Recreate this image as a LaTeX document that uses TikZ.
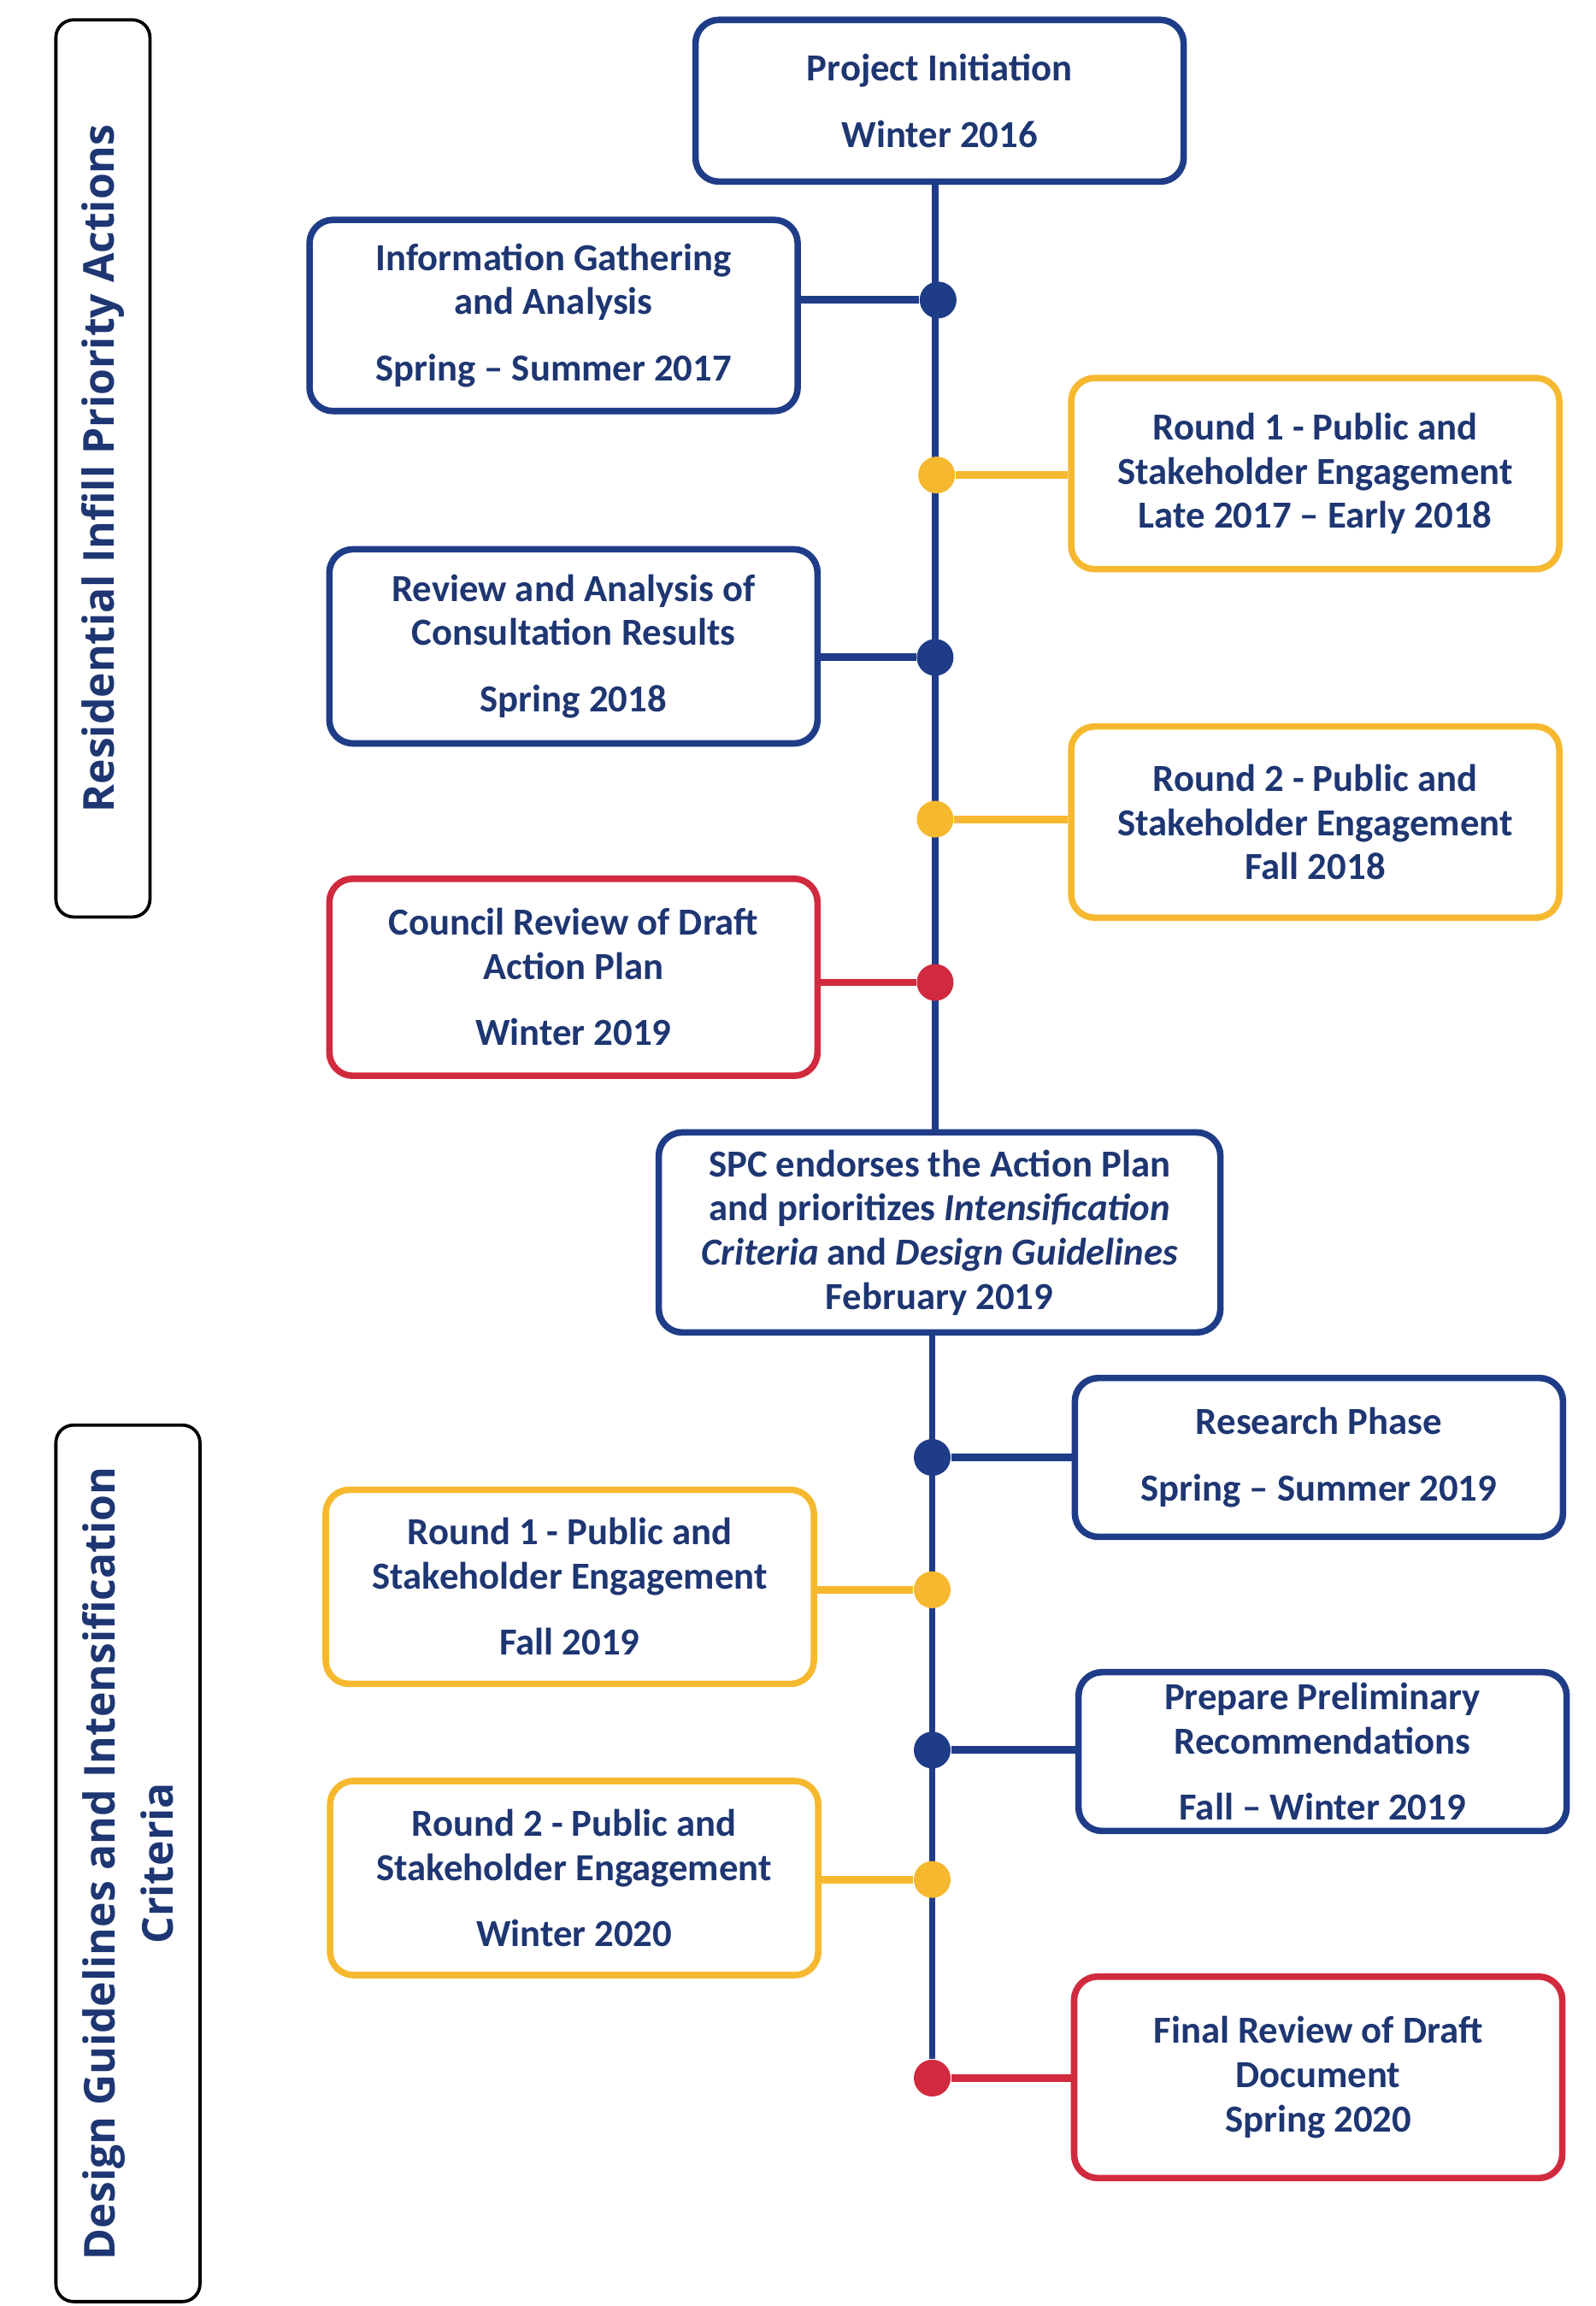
\documentclass[tikz,border=0pt]{standalone}
\usepackage{fontspec}
\setmainfont{Carlito}
\newfontfamily\sidefont{Open Sans}
\usetikzlibrary{backgrounds}
\definecolor{navy}{HTML}{1F3C88}
\definecolor{gold}{HTML}{F6B82F}
\definecolor{crimson}{HTML}{D12A3E}
\definecolor{ink}{HTML}{1E3672}

\begin{document}
\begin{tikzpicture}[x=0.5pt,y=-0.5pt,
  stage/.style={draw,line width=2.2pt,rounded corners=8pt,fill=white,text=ink,
    align=center,inner sep=0pt,minimum width=166pt,
    font=\bfseries\fontsize{13}{15}\selectfont},
  bluestage/.style={stage,draw=navy},
  goldstage/.style={stage,draw=gold},
  redstage/.style={stage,draw=crimson},
  side/.style={draw=black,line width=1.1pt,rounded corners=6pt,rotate=90,
    text=ink,align=center,inner sep=0pt,
    font=\sidefont\bfseries\fontsize{14.5}{20}\selectfont},
  tdot/.style={circle,inner sep=0pt,minimum size=12.5pt},
  link/.style={line width=2.6pt}]
  \useasboundingbox (0,0) rectangle (1085,1568);

  % side labels
  \node[side,minimum width=305pt,minimum height=32pt] (phase1) at (70,318.5)
    {Residential Infill Priority Actions};
  \node[side,minimum width=298pt,minimum height=49pt] (phase2) at (87,1267)
    {Design Guidelines and Intensification\\Criteria};

  % stages
  \node[bluestage,minimum height=55pt] (top) at (639,68.5)
    {Project Initiation\\[7.5pt]Winter 2016};
  \node[bluestage,minimum height=65pt] (info) at (376.5,214.5)
    {Information Gathering\\and Analysis\\[7.5pt]Spring -- Summer 2017};
  \node[goldstage,minimum height=65pt] (rnd1a) at (894.5,322)
    {Round 1 - Public and\\Stakeholder Engagement\\Late 2017 -- Early 2018};
  \node[bluestage,minimum height=66pt] (review) at (390,439.5)
    {Review and Analysis of\\Consultation Results\\[7.5pt]Spring 2018};
  \node[goldstage,minimum height=65pt] (rnd2a) at (894.5,559)
    {Round 2 - Public and\\Stakeholder Engagement\\Fall 2018};
  \node[redstage,minimum height=67pt] (council) at (390,664.5)
    {Council Review of Draft\\Action Plan\\[7.5pt]Winter 2019};
  \node[bluestage,minimum width=191pt,minimum height=68pt] (spc) at (639,838)
    {SPC endorses the Action Plan\\and prioritizes \textit{Intensification}\\
     \textit{Criteria} and \textit{Design Guidelines}\\February 2019};
  \node[bluestage,minimum height=54pt] (research) at (897,991)
    {Research Phase\\[7.5pt]Spring -- Summer 2019};
  \node[goldstage,minimum height=66pt] (rnd1b) at (387.5,1079)
    {Round 1 - Public and\\Stakeholder Engagement\\[7.5pt]Fall 2019};
  \node[bluestage,minimum height=54pt] (prelim) at (899.5,1191)
    {Prepare Preliminary\\Recommendations\\[7.5pt]Fall -- Winter 2019};
  \node[goldstage,minimum height=66pt] (rnd2b) at (390.5,1277)
    {Round 2 - Public and\\Stakeholder Engagement\\[7.5pt]Winter 2020};
  \node[redstage,minimum height=68.5pt] (final) at (896.5,1412.5)
    {Final Review of Draft\\Document\\Spring 2020};

  % timeline dots
  \node[tdot,fill=navy] (d-info) at (638,204) {};
  \node[tdot,fill=gold] (d-rnd1a) at (637,323) {};
  \node[tdot,fill=navy] (d-review) at (636,447) {};
  \node[tdot,fill=gold] (d-rnd2a) at (636,557) {};
  \node[tdot,fill=crimson] (d-council) at (636,668) {};
  \node[tdot,fill=navy] (d-research) at (634,991) {};
  \node[tdot,fill=gold] (d-rnd1b) at (634,1081) {};
  \node[tdot,fill=navy] (d-prelim) at (634,1190) {};
  \node[tdot,fill=gold] (d-rnd2b) at (634,1278) {};
  \node[tdot,fill=crimson] (d-final) at (634,1413) {};

  \begin{scope}[on background layer]
    \draw[navy,line width=2.2pt] (top.south -| d-review) -- (spc.north -| d-review);
    \draw[navy,line width=2.2pt] (spc.south -| d-final) -- (d-final);
    \draw[link,navy] (d-info -| info.east) -- (d-info);
    \draw[link,gold] (d-rnd1a -| rnd1a.west) -- (d-rnd1a);
    \draw[link,navy] (d-review -| review.east) -- (d-review);
    \draw[link,gold] (d-rnd2a -| rnd2a.west) -- (d-rnd2a);
    \draw[link,crimson] (d-council -| council.east) -- (d-council);
    \draw[link,navy] (d-research -| research.west) -- (d-research);
    \draw[link,gold] (d-rnd1b -| rnd1b.east) -- (d-rnd1b);
    \draw[link,navy] (d-prelim -| prelim.west) -- (d-prelim);
    \draw[link,gold] (d-rnd2b -| rnd2b.east) -- (d-rnd2b);
    \draw[link,crimson] (d-final -| final.west) -- (d-final);
  \end{scope}
\end{tikzpicture}
\end{document}
